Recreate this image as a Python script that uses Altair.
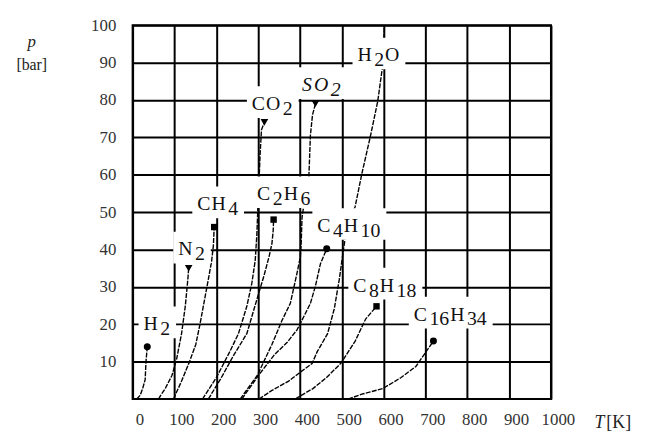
import re
import altair as alt
import pandas as pd

W, H = 423, 378          # plot area in px
PX_T = W / 1000.0        # px per K
PX_P = H / 100.0         # px per bar

# ---------------- vapour-pressure curves (T in K, p in bar) ----------------
NAMES = ["H2", "N2", "CH4", "CO2", "C2H6", "SO2", "C4H10", "H2O", "C8H18", "C16H34"]
H2_T = [10, 18, 24, 30, 32, 35]
H2_P = [0, 1, 2.8, 5.2, 10, 14]
N2_T = [62, 66, 78, 94, 105, 117, 126, 132, 134]
N2_P = [0, 0.8, 2.8, 6.3, 10.6, 17.5, 24.9, 32, 35]
CH4_T = [98, 102, 117, 136, 151, 161, 171, 181, 189, 193, 195]
CH4_P = [0, 1.1, 4.8, 10, 14.6, 20, 26, 32, 37, 41, 46]
CO2_T = [167, 200, 232, 253, 273, 285, 293, 297, 299, 302, 305, 308, 315]
CO2_P = [0, 5.7, 12.6, 17.5, 24.8, 31, 37, 44, 50, 58, 66, 72, 74]
C2H6_T = [181, 212, 241, 273, 298, 314, 326, 333, 336, 337]
C2H6_P = [0, 5.7, 11.6, 17.5, 27, 33, 38, 41.6, 45, 48]
SO2_T = [257, 298, 333, 357, 377, 393, 401, 403, 405, 412, 421, 425, 430, 437]
SO2_P = [0, 6.3, 14.6, 21, 25.6, 33.7, 38, 42, 48.6, 54, 58.5, 70.6, 76, 79]
C4H10_T = [261, 302, 340, 369, 393, 409, 425, 437, 449, 464]
C4H10_P = [0, 6.5, 12, 15.1, 18.5, 22, 25.6, 30.2, 36.2, 40.2]
H2O_T = [302, 333, 373, 401, 429, 441, 466, 482, 494, 504, 511, 532, 548, 569, 586, 598, 602]
H2O_P = [0, 2.3, 4.8, 7.2, 9.5, 12.6, 17.5, 24.1, 32, 40, 45, 51.5, 60.3, 70.6, 79.7, 89.4, 100]
C8H18_T = [390, 393, 431, 463, 498, 532, 557, 583]
C8H18_P = [0, 0.3, 2.8, 5.7, 9.6, 15.5, 21.4, 24.8]
C16H34_T = [515, 523, 548, 598, 641, 677, 698, 719]
C16H34_P = [0, 0.3, 1.3, 2.8, 5.7, 8.7, 12.1, 15.5]

SERIES_T = [H2_T, N2_T, CH4_T, CO2_T, C2H6_T, SO2_T, C4H10_T, H2O_T, C8H18_T, C16H34_T]
SERIES_P = [H2_P, N2_P, CH4_P, CO2_P, C2H6_P, SO2_P, C4H10_P, H2O_P, C8H18_P, C16H34_P]

# critical points (end of the curves), H2O's lies above the chart
MARKER_NAMES = ["H2", "N2", "CH4", "CO2", "C2H6", "SO2", "C4H10", "C8H18", "C16H34"]
MARKER_SHAPES = {"H2": "circle", "N2": "triangle-down", "CH4": "square", "CO2": "triangle-down",
                 "C2H6": "square", "SO2": "triangle-down", "C4H10": "circle",
                 "C8H18": "square", "C16H34": "circle"}
SHAPE_SIZE = {"circle": 50, "square": 42, "triangle-down": 60}

# label anchors (left edge, baseline) in data units
LABEL_NAMES = ["H2", "N2", "CH4", "CO2", "C2H6", "SO2", "H2O", "C4H10", "C8H18", "C16H34"]
LABEL_T = [26, 109, 154.5, 285, 297.6, 405, 537.5, 441.5, 527.5, 672]
LABEL_P = [18.4, 38.4, 50.5, 77.3, 53.2, 82.4, 90.3, 44.7, 28.75, 21]
ITALIC_LABELS = ["SO2"]

X_TICKS = list(range(0, 1001, 100))
Y_TICKS = list(range(10, 101, 10))

# ---------------- tables ----------------
rows = []
for n, ts, ps in zip(NAMES, SERIES_T, SERIES_P):
    for i, (t, p) in enumerate(zip(ts, ps)):
        rows.append({"name": n, "i": i, "T": t, "p": p})
lines_df = pd.DataFrame(rows)

mrows = []
for n, ts, ps in zip(NAMES, SERIES_T, SERIES_P):
    if n in MARKER_NAMES:
        shp = MARKER_SHAPES[n]
        mrows.append({"name": n, "T": ts[-1], "p": ps[-1], "shape": shp, "sz": SHAPE_SIZE[shp]})
markers_df = pd.DataFrame(mrows)

FS = 20
GLYPH = {"C": 0.667, "H": 0.722, "O": 0.722, "N": 0.722, "S": 0.556}
seg_rows, box_rows = [], []
for n, t0, p0 in zip(LABEL_NAMES, LABEL_T, LABEL_P):
    cur = 0.0
    prev_sub = None
    for tok in re.findall(r"[A-Z][a-z]?|\d+", n):
        sub = tok.isdigit()
        if prev_sub is not None:
            cur += 2.5 if sub else 1.0
        w = sum((0.5 if ch.isdigit() else GLYPH.get(ch, 0.6)) for ch in tok) * FS
        seg_rows.append({"label": n, "txt": tok, "sub": sub, "ital": n in ITALIC_LABELS,
                         "T": t0 + cur / PX_T, "p": p0})
        cur += w
        prev_sub = sub
    box_rows.append({"label": n, "T0": t0 - 5 / PX_T, "T1": t0 + (cur + 6) / PX_T,
                     "p0": p0 - 8 / PX_P, "p1": p0 + 24 / PX_P})
seg_df = pd.DataFrame(seg_rows)
box_df = pd.DataFrame(box_rows)

# ---------------- scales / axes ----------------
xs = alt.Scale(domain=[0, 1000], nice=False, zero=False)
ys = alt.Scale(domain=[0, 100], nice=False, zero=False)
xaxis = alt.Axis(values=X_TICKS, grid=True, gridColor="black", gridWidth=2, domain=False,
                 ticks=False, tickSize=0, labelFont="Liberation Serif", labelFontSize=17,
                 labelColor="#333", labelPadding=13, labelOffset=7, title=None, labelFlush=False,
                 format="d")
yaxis = alt.Axis(values=Y_TICKS, grid=True, gridColor="black", gridWidth=2, domain=False,
                 ticks=False, tickSize=0, labelFont="Liberation Serif", labelFontSize=17,
                 labelColor="#333", labelPadding=17, title=None, format="d")

def X(f):
    return alt.X(f, scale=xs, axis=xaxis)

def Y(f):
    return alt.Y(f, scale=ys, axis=yaxis)

curves = alt.Chart(lines_df).mark_line(color="black", strokeWidth=1.4, strokeDash=[5, 1.3]).encode(
    x=X("T:Q"), y=Y("p:Q"), detail="name:N", order="i:Q")

boxes = alt.Chart(box_df).mark_rect(color="white").encode(
    x=X("T0:Q"), x2="T1:Q", y=Y("p0:Q"), y2="p1:Q")

markers = alt.Chart(markers_df).mark_point(filled=True, color="black", opacity=1).encode(
    x=X("T:Q"), y=Y("p:Q"), shape=alt.Shape("shape:N", scale=None),
    size=alt.Size("sz:Q", scale=None))

def label_layer(sub, ital):
    d = seg_df[(seg_df["sub"] == sub) & (seg_df["ital"] == ital)]
    return alt.Chart(d).mark_text(align="left", baseline="alphabetic", font="Liberation Serif",
                                  fontSize=FS, color="#111", dy=5 if sub else 0,
                                  fontStyle="italic" if ital else "normal").encode(
        x=X("T:Q"), y=Y("p:Q"), text="txt:N")

dummy = pd.DataFrame({"k": [0]})
t_p = alt.Chart(dummy).mark_text(text="p", font="Liberation Serif", fontSize=17, fontStyle="italic",
                                 align="center", baseline="alphabetic", color="#222").encode(
    x=alt.value(-102), y=alt.value(22))
t_bar = alt.Chart(dummy).mark_text(text="[bar]", font="Liberation Serif", fontSize=16,
                                   align="center", baseline="alphabetic", color="#222").encode(
    x=alt.value(-102), y=alt.value(45))
t_T = alt.Chart(dummy).mark_text(text="T", font="Liberation Serif", fontSize=18, fontStyle="italic",
                                 align="left", baseline="alphabetic", color="#222").encode(
    x=alt.value(467), y=alt.value(407))
t_K = alt.Chart(dummy).mark_text(text="[K]", font="Liberation Serif", fontSize=18,
                                 align="left", baseline="alphabetic", color="#222").encode(
    x=alt.value(479), y=alt.value(407))

chart = alt.layer(
    curves, boxes, markers,
    label_layer(False, False), label_layer(True, False),
    label_layer(False, True), label_layer(True, True),
    t_p, t_bar, t_T, t_K,
).properties(
    width=W, height=H,
    autosize=alt.AutoSizeParams(type="none"),
    padding={"left": 126, "top": 15, "right": 88, "bottom": 36},
).configure_view(stroke="black", strokeWidth=2)

chart.save("out.html", embed_options={"renderer": "svg", "actions": False})
